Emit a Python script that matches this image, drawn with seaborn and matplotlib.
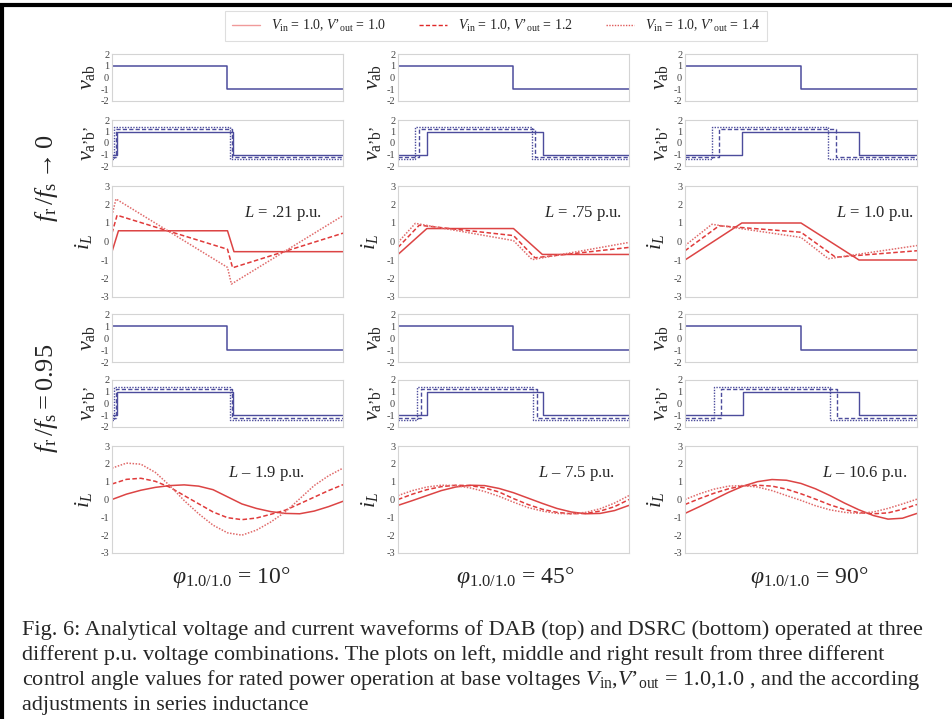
import matplotlib
matplotlib.use("Agg")
import matplotlib.pyplot as plt
import seaborn as sns
import pandas as pd
from matplotlib.lines import Line2D

# ---------------- data ----------------
ANGLES = ["10°", "45°", "90°"]
VOUT = [1.0, 1.2, 1.4]                      # V'out of the three series

# primary bridge voltage v_ab (step-post)
VAB_X = [0.0, 0.5, 1.0]
VAB_Y = [1.0, -1.0, -1.0]

# secondary bridge voltage v_a'b' : rise / fall instants per column, per series
DAB_RISE = [[0.023, 0.016, 0.010], [0.124, 0.092, 0.075], [0.245, 0.147, 0.116]]
DAB_FALL = [[0.525, 0.518, 0.511], [0.626, 0.593, 0.581], [0.750, 0.649, 0.618]]
DSRC_RISE = [[0.023, 0.016, 0.010], [0.124, 0.098, 0.084], [0.248, 0.155, 0.123]]
DSRC_FALL = [[0.525, 0.518, 0.511], [0.629, 0.600, 0.586], [0.750, 0.656, 0.625]]

# DAB inductor current (piecewise linear corner points)
DAB_IL_X = [
    [[0, 0.028, 0.5, 0.528, 1.0], [0, 0.022, 0.5, 0.522, 1.0], [0, 0.017, 0.5, 0.517, 1.0]],
    [[0, 0.125, 0.5, 0.625, 1.0], [0, 0.092, 0.5, 0.593, 1.0], [0, 0.075, 0.5, 0.581, 1.0]],
    [[0, 0.245, 0.5, 0.750, 1.0], [0, 0.147, 0.5, 0.649, 1.0], [0, 0.116, 0.5, 0.618, 1.0]],
]
DAB_IL_Y = [
    [[-0.55, 0.58, 0.58, -0.55, -0.55], [0.45, 1.42, -0.42, -1.42, 0.45], [1.40, 2.30, -1.40, -2.30, 1.40]],
    [[-0.70, 0.70, 0.70, -0.70, -0.70], [-0.32, 0.88, 0.32, -0.88, -0.32], [-0.05, 0.98, 0.05, -0.98, -0.05]],
    [[-1.00, 1.00, 1.00, -1.00, -1.00], [-0.50, 0.85, 0.50, -0.85, -0.50], [-0.22, 0.93, 0.22, -0.93, -0.22]],
]

# DSRC inductor current, read at these instants
T_SAMPLES = [0, 0.0625, 0.125, 0.1875, 0.25, 0.3125, 0.375, 0.4375, 0.5,
             0.5625, 0.625, 0.6875, 0.75, 0.8125, 0.875, 0.9375, 1.0]
DSRC_IL = [
    [
        [0.00, 0.30, 0.52, 0.68, 0.78, 0.82, 0.75, 0.55, 0.15, -0.25, -0.50, -0.68, -0.78, -0.80, -0.65, -0.40, -0.10],
        [0.87, 1.13, 1.19, 1.02, 0.69, 0.22, -0.24, -0.70, -1.02, -1.13, -1.04, -0.83, -0.60, -0.24, 0.13, 0.50, 0.83],
        [1.76, 2.04, 1.98, 1.52, 0.78, -0.06, -0.80, -1.44, -1.87, -2.00, -1.72, -1.26, -0.70, 0.04, 0.78, 1.33, 1.76],
    ],
    [
        [-0.33, -0.06, 0.22, 0.50, 0.70, 0.80, 0.78, 0.62, 0.38, 0.08, -0.22, -0.50, -0.70, -0.80, -0.78, -0.62, -0.33],
        [0.00, 0.30, 0.55, 0.72, 0.80, 0.78, 0.65, 0.42, 0.05, -0.28, -0.55, -0.72, -0.80, -0.78, -0.65, -0.40, 0.00],
        [0.22, 0.50, 0.70, 0.80, 0.78, 0.65, 0.45, 0.18, -0.15, -0.45, -0.65, -0.78, -0.80, -0.72, -0.52, -0.20, 0.22],
    ],
    [
        [-0.78, -0.40, 0.00, 0.40, 0.75, 1.00, 1.12, 1.08, 0.90, 0.60, 0.22, -0.20, -0.58, -0.90, -1.10, -1.05, -0.78],
        [-0.28, 0.05, 0.35, 0.60, 0.77, 0.80, 0.75, 0.58, 0.32, 0.02, -0.30, -0.56, -0.74, -0.80, -0.75, -0.55, -0.28],
        [0.00, 0.32, 0.58, 0.75, 0.78, 0.70, 0.50, 0.22, -0.05, -0.35, -0.58, -0.72, -0.78, -0.70, -0.50, -0.25, 0.02],
    ],
]

L_DAB = [".21", ".75", "1.0"]
L_DSRC = ["1.9", "7.5", "10.6"]
L_XPOS_DAB = [0.91, 0.97, 0.985]
L_XPOS_DSRC = [0.835, 0.94, 0.96]

# ---------------- style ----------------
sns.set_style("white")
plt.rcParams.update({
    "font.family": ["Liberation Serif", "DejaVu Serif"],
    "mathtext.fontset": "custom",
    "mathtext.rm": "Liberation Serif",
    "mathtext.it": "Liberation Serif:italic",
    "mathtext.bf": "Liberation Serif:bold",
})

BLUE = "#4c4c9c"
RED_LINES = ["#dc4444", "#e03a3a", "#e06a6a"]
STYLES = ["-", (0, (3.0, 1.6)), (0, (1.0, 1.0))]
LEGEND_COLORS = ["#f09a9a", "#e02828", "#e05a5a"]

W, H = 953, 719
fig = plt.figure(figsize=(W / 100, H / 100), dpi=100)

COLS = [(112, 343), (398, 629), (685, 917)]
ROWS = [(54, 101), (120, 166), (186, 297), (314, 362), (380, 427), (446, 553)]


def px_axes(x0, x1, y0, y1):
    return fig.add_axes([x0 / W, 1 - y1 / H, (x1 - x0) / W, (y1 - y0) / H])


def style_axes(ax, lim, ticks):
    ax.set_xlim(0, 1)
    ax.set_ylim(-lim, lim)
    ax.set_xticks([])
    ax.set_yticks(ticks)
    ax.set_yticklabels([str(t) for t in ticks])
    ax.tick_params(axis="y", length=0, pad=2, labelsize=7.5, labelcolor="#444444")
    for s in ax.spines.values():
        s.set_color("#d4d4d4")
        s.set_linewidth(0.8)
    ax.set_xlabel("")


for c, (x0, x1) in enumerate(COLS):
    for b, (rise_all, fall_all) in enumerate([(DAB_RISE, DAB_FALL), (DSRC_RISE, DSRC_FALL)]):
        r0 = ROWS[3 * b]
        r1 = ROWS[3 * b + 1]
        r2 = ROWS[3 * b + 2]

        # v_ab
        ax = px_axes(x0, x1, *r0)
        sns.lineplot(x=VAB_X, y=VAB_Y, ax=ax, color=BLUE, lw=1.1,
                     drawstyle="steps-post", estimator=None, sort=False)
        style_axes(ax, 2, [-2, -1, 0, 1, 2])
        ax.set_ylabel(r"$v_{\mathrm{ab}}$", fontsize=16)
        ax.yaxis.set_label_coords(-0.065, 0.5)

        # v_a'b'
        ax = px_axes(x0, x1, *r1)
        for k in range(3):
            rise, fall, v = rise_all[c][k], fall_all[c][k], VOUT[k]
            df = pd.DataFrame({"t": [0.0, rise, fall, 1.0], "v": [-v, v, -v, -v]})
            sns.lineplot(data=df, x="t", y="v", ax=ax, color=BLUE, lw=1.0,
                         linestyle=STYLES[k], drawstyle="steps-post",
                         estimator=None, sort=False)
        style_axes(ax, 2, [-2, -1, 0, 1, 2])
        ax.set_ylabel(r"$v_{\mathrm{a’b’}}$", fontsize=16)
        ax.yaxis.set_label_coords(-0.065, 0.5)

        # i_L
        ax = px_axes(x0, x1, *r2)
        for k in range(3):
            if b == 0:
                df = pd.DataFrame({"t": DAB_IL_X[c][k], "i": DAB_IL_Y[c][k]})
            else:
                df = pd.DataFrame({"t": T_SAMPLES, "i": DSRC_IL[c][k]})
            sns.lineplot(data=df, x="t", y="i", ax=ax, color=RED_LINES[k], lw=1.1,
                         linestyle=STYLES[k], estimator=None, sort=False)
        style_axes(ax, 3, [-3, -2, -1, 0, 1, 2, 3])
        ax.set_ylabel(r"$i_{L}$", fontsize=16)
        ax.yaxis.set_label_coords(-0.08, 0.5)
        if b == 0:
            ax.text(L_XPOS_DAB[c], 0.75, r"$L$ = " + L_DAB[c] + " p.u.",
                    transform=ax.transAxes, ha="right", va="center", fontsize=12)
        else:
            ax.text(L_XPOS_DSRC[c], 0.74, r"$L$ – " + L_DSRC[c] + " p.u.",
                    transform=ax.transAxes, ha="right", va="center", fontsize=12)

# bottom angle labels
for cx, ang in zip([231, 515, 809], ANGLES):
    fig.text(cx / W, 1 - 578 / H, r"$\varphi_{\mathrm{1.0/1.0}}$ = " + ang,
             ha="center", va="center", fontsize=17)

# side labels
fig.text(47 / W, 1 - 178 / H, r"$f_{\mathrm{r}}\,/f_{\mathrm{s}}\rightarrow 0$",
         rotation=90, ha="center", va="center", fontsize=19)
fig.text(47 / W, 1 - 398 / H, r"$f_{\mathrm{r}}\,/f_{\mathrm{s}} = 0.95$",
         rotation=90, ha="center", va="center", fontsize=19)

# legend
handles = [Line2D([], [], color=LEGEND_COLORS[k], linestyle=STYLES[k], lw=1.0) for k in range(3)]
labels = [r"$V_{\mathrm{in}}$ = 1.0, $V’_{\mathrm{out}}$ = " + f"{v:.1f}" for v in VOUT]
leg = fig.legend(handles, labels, loc="center", bbox_to_anchor=(496 / W, 1 - 26 / H),
                 ncol=3, frameon=True, fancybox=False, edgecolor="#d6d6d6",
                 fontsize=10, handlelength=2.0, columnspacing=2.4, borderpad=0.5,
                 handletextpad=0.8)
leg.get_frame().set_linewidth(0.8)

# caption
CAPTION = [
    "Fig. 6: Analytical voltage and current waveforms of DAB (top) and DSRC (bottom) operated at three",
    "different p.u. voltage combinations. The plots on left, middle and right result from three different",
    r"control angle values for rated power operation at base voltages $V_{\mathrm{in}}$,$V’_{\mathrm{out}}$ = 1.0,1.0 , and the according",
    "adjustments in series inductance",
]
for i, line in enumerate(CAPTION):
    fig.text(22 / W, 1 - (635 + 25 * i) / H, line, ha="left", va="baseline", fontsize=16)

# page borders
fig.add_artist(Line2D([0, 1], [1 - 5 / H, 1 - 5 / H], color="black", lw=3, transform=fig.transFigure))
fig.add_artist(Line2D([2.5 / W, 2.5 / W], [0, 1 - 5 / H], color="black", lw=3, transform=fig.transFigure))

fig.savefig("out.png", dpi=100)
